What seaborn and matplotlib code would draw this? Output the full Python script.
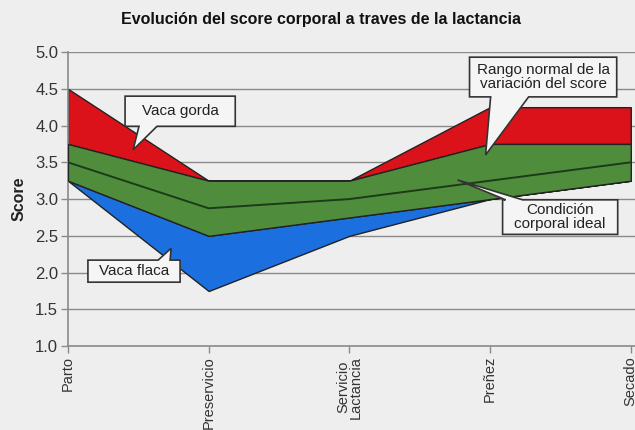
import numpy as np
import matplotlib
matplotlib.use("Agg")
import matplotlib.pyplot as plt
from matplotlib.patches import Polygon
import seaborn as sns
import pandas as pd

# etapas de la lactancia
etapas = ["Parto", "Preservicio", "Servicio\nLactancia", "Preñez", "Secado"]
# limite superior vaca gorda
gorda_sup = [4.5, 3.25, 3.25, 4.25, 4.25]
# rango normal (limites)
normal_sup = [3.75, 3.25, 3.25, 3.75, 3.75]
normal_inf = [3.25, 2.5, 2.75, 3.0, 3.25]
# condicion corporal ideal
ideal = [3.5, 2.875, 3.0, 3.25, 3.5]
# limite inferior vaca flaca
flaca_inf = [3.25, 1.75, 2.5, 3.0, 3.25]

sns.set_style("whitegrid")
plt.rcParams['font.family'] = ['Liberation Sans', 'DejaVu Sans']

bg = '#eeeeee'
fig = plt.figure(figsize=(6.35, 4.3), dpi=100, facecolor=bg)
ax = fig.add_axes([0.107, 0.195, 0.893, 0.684], facecolor=bg)

x = np.arange(len(etapas))
edge = '#222222'
ax.fill_between(x, normal_sup, gorda_sup, color='#dc121b', ec=edge, lw=1, zorder=2)
ax.fill_between(x, flaca_inf, normal_inf, color='#1c6fde', ec=edge, lw=1, zorder=2)
ax.fill_between(x, normal_inf, normal_sup, color='#4f8d3d', ec=edge, lw=1, zorder=3)

df = pd.DataFrame({'x': x, 'ideal': ideal})
sns.lineplot(data=df, x='x', y='ideal', ax=ax, color='#1d3a1a', lw=1.4, zorder=4)

ax.set_xlim(0, 4.03)
ax.set_ylim(1, 5)
ax.set_yticks(np.arange(1, 5.01, 0.5))
ax.set_yticklabels([f"{v:.1f}" for v in np.arange(1, 5.01, 0.5)], fontsize=12, color='#333333')
ax.set_xticks(x)
ax.set_xticklabels(etapas, rotation=90, va='top', ha='center', fontsize=10.5,
                   color='#333333', linespacing=0.9)
ax.grid(axis='y', color='#8a8a8a', lw=1)
ax.grid(axis='x', visible=False)
for s in ['top', 'right']:
    ax.spines[s].set_visible(False)
for s in ['left', 'bottom']:
    ax.spines[s].set_color('#8a8a8a')
    ax.spines[s].set_linewidth(1.2)
ax.tick_params(axis='both', direction='out', length=5, width=1, color='#8a8a8a', pad=2,
               left=True, bottom=True)
ax.set_xlabel('')
ax.set_ylabel('Score', fontsize=11.5, fontweight='bold', color='#222222', labelpad=6)

fig.text(0.505, 0.955, 'Evolución del score corporal a traves de la lactancia',
         ha='center', va='center', fontsize=11.5, fontweight='bold', color='#111111')

# recuadros con su punta (contorno del globo) y texto
notes = [
    ('Vaca gorda', (0.80, 4.20),
     [(0.406, 4.40), (1.189, 4.40), (1.189, 3.99), (0.633, 3.99), (0.463, 3.67),
      (0.505, 3.99), (0.406, 3.99)]),
    ('Rango normal de la\nvariación del score', (3.377, 4.66),
     [(2.854, 4.93), (3.90, 4.93), (3.90, 4.39), (3.274, 4.39), (2.968, 3.60),
      (3.004, 4.39), (2.854, 4.39)]),
    ('Condición\ncorporal ideal', (3.498, 2.755),
     [(3.089, 2.99), (3.110, 2.99), (2.769, 3.26), (3.231, 2.99), (3.907, 2.99),
      (3.907, 2.52), (3.089, 2.52)]),
    ('Vaca flaca', (0.47, 2.02),
     [(0.142, 2.17), (0.641, 2.17), (0.733, 2.33), (0.726, 2.17), (0.797, 2.17),
      (0.797, 1.87), (0.142, 1.87)]),
]
for txt, pos, shape in notes:
    ax.add_patch(Polygon(shape, closed=True, fc='#f5f5f5', ec='#333333', lw=1.2,
                         zorder=6, clip_on=False))
    ax.text(pos[0], pos[1], txt, ha='center', va='center', fontsize=11,
            color='#222222', linespacing=1.0, zorder=7)

fig.savefig('out.png', dpi=100, facecolor=bg)
